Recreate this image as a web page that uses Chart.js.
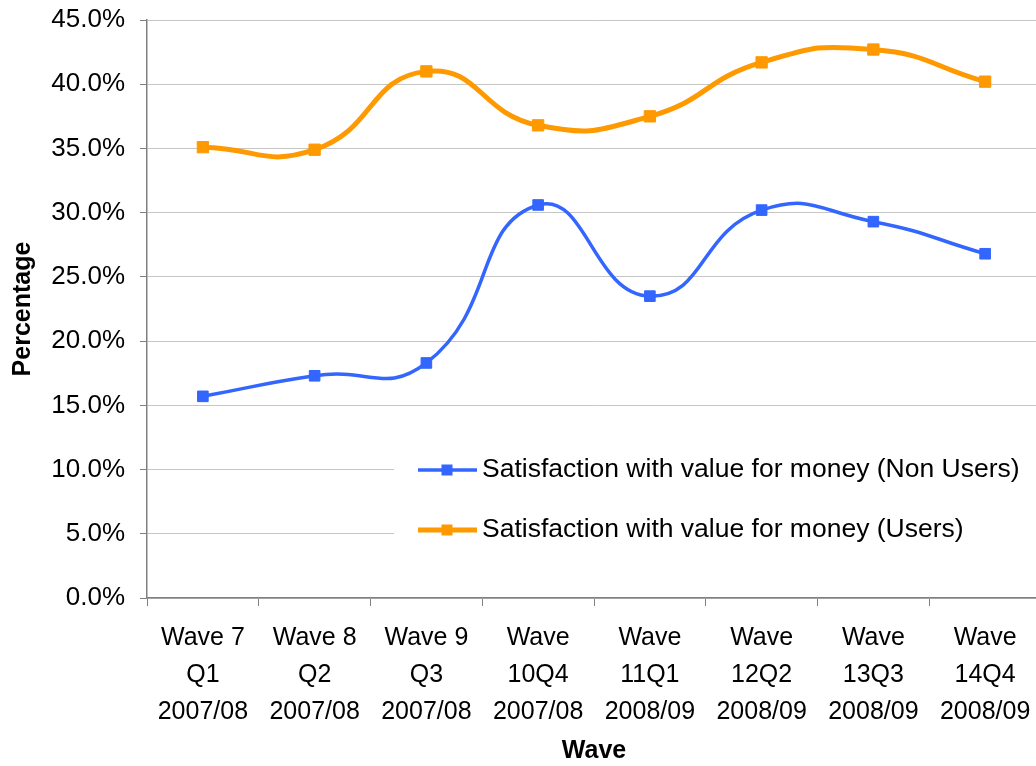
<!DOCTYPE html>
<html lang="en">
<head>
<meta charset="UTF-8">
<title>Satisfaction with value for money</title>
<script src="https://cdn.jsdelivr.net/npm/chart.js"></script>
<style>
  body {
    margin: 0;
    padding: 0;
    background: #fff;
    width: 1036px;
    height: 766px;
    overflow: hidden;
  }
  #wrap {
    width: 1050px;
    height: 766px;
  }
</style>
</head>
<body>
<div id="wrap"><canvas id="chart" width="1050" height="766"></canvas></div>

<script>
// data
const waves = [
  ["Wave 7", "Q1", "2007/08"],
  ["Wave 8", "Q2", "2007/08"],
  ["Wave 9", "Q3", "2007/08"],
  ["Wave", "10Q4", "2007/08"],
  ["Wave", "11Q1", "2008/09"],
  ["Wave", "12Q2", "2008/09"],
  ["Wave", "13Q3", "2008/09"],
  ["Wave", "14Q4", "2008/09"]
];
const nonUsers = [15.7, 17.3, 18.3, 30.6, 23.5, 30.2, 29.3, 26.8];
const users = [35.1, 34.9, 41.0, 36.8, 37.5, 41.7, 42.7, 40.2];
const seriesNames = [
  "Satisfaction with value for money (Non Users)",
  "Satisfaction with value for money (Users)"
];
const yMin = 0, yMax = 45, yStep = 5;

const FONT = "'Liberation Sans', Arial, sans-serif";

// legend drawn in a white box inside the plot, like the Excel one
const boxLegend = {
  id: "boxLegend",
  afterDraw(chart) {
    const ctx = chart.ctx;
    ctx.save();
    ctx.fillStyle = "#fff";
    ctx.fillRect(394, 446, 700, 112);
    chart.data.datasets.forEach((ds, i) => {
      const y = 470 + i * 60;
      ctx.strokeStyle = ds.borderColor;
      ctx.lineWidth = ds.borderWidth;
      ctx.beginPath();
      ctx.moveTo(418, y);
      ctx.lineTo(477, y);
      ctx.stroke();
      ctx.fillStyle = ds.borderColor;
      ctx.fillRect(447 - 5.5, y - 5.5, 11, 11);
      ctx.fillStyle = "#000";
      ctx.font = "26.5px " + FONT;
      ctx.textBaseline = "middle";
      ctx.textAlign = "left";
      ctx.fillText(ds.label, 482, y);
    });
    ctx.restore();
  }
};

const ctx = document.getElementById("chart").getContext("2d");
new Chart(ctx, {
  type: "line",
  data: {
    labels: waves,
    datasets: [
      {
        label: seriesNames[0],
        data: nonUsers,
        borderColor: "#3366FF",
        backgroundColor: "#3366FF",
        borderWidth: 3.5,
        pointStyle: "rect",
        pointRadius: 7.5,
        pointBorderWidth: 1,
        tension: 0.5,
        fill: false
      },
      {
        label: seriesNames[1],
        data: users,
        borderColor: "#FF9900",
        backgroundColor: "#FF9900",
        borderWidth: 5,
        pointStyle: "rect",
        pointRadius: 8,
        pointBorderWidth: 1,
        tension: 0.5,
        fill: false
      }
    ]
  },
  options: {
    responsive: false,
    animation: false,
    layout: { padding: { top: 20, left: 0, right: 3, bottom: 0 } },
    plugins: {
      legend: { display: false },
      tooltip: { enabled: false }
    },
    scales: {
      x: {
        offset: true,
        grid: {
          offset: true,
          drawOnChartArea: false,
          tickLength: 8,
          color: "#808080"
        },
        border: { color: "#808080", width: 1.5 },
        ticks: {
          color: "#000",
          font: { family: FONT, size: 25, lineHeight: 1.48 },
          padding: 14,
          maxRotation: 0,
          autoSkip: false
        },
        title: {
          display: true,
          text: "Wave",
          color: "#000",
          font: { family: FONT, size: 25, weight: "bold" },
          padding: { top: 0, bottom: 0 }
        },
        afterFit(s) {
          s.height = 168;
          s.paddingLeft = 0;
          s.paddingRight = 0;
        }
      },
      y: {
        min: yMin,
        max: yMax,
        grid: {
          color: "#c6c6c6",
          tickColor: "#808080",
          tickLength: 7
        },
        border: { color: "#808080", width: 1.5 },
        ticks: {
          stepSize: yStep,
          color: "#000",
          font: { family: FONT, size: 26 },
          padding: 15,
          callback: v => v.toFixed(1) + "%"
        },
        title: {
          display: true,
          text: "Percentage",
          color: "#000",
          font: { family: FONT, size: 25, weight: "bold" },
          padding: { top: 8, bottom: 0 }
        },
        afterFit(s) {
          s.width = 147;
          s.paddingTop = 0;
          s.paddingBottom = 0;
        }
      }
    }
  },
  plugins: [boxLegend]
});
</script>
</body>
</html>
